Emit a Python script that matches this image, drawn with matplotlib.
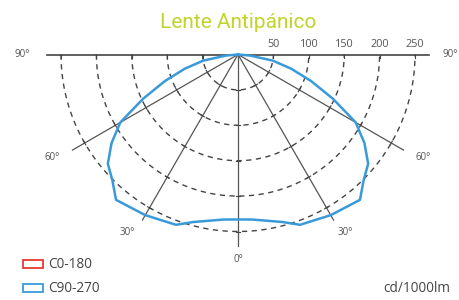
import numpy as np
import matplotlib
matplotlib.use('Agg')
import matplotlib.pyplot as plt

# C90-270 intensity (cd/1000lm) vs angle from nadir, symmetric about 0
angles = [0, 5, 15, 20, 30, 40, 45, 50, 55, 60, 65, 70, 75, 80, 85, 90]
c90_270 = [233, 234, 245, 256, 262, 268, 251, 240, 218, 192, 148, 110, 78, 50, 17, 0]

rings = [50, 100, 150, 200, 250]
ring_labels = ['50', '100', '150', '200', '250']
spokes = [-60, -30, 0, 30, 60]
r_max = 270

title_color = '#c0d42a'
text_color = '#555555'

def to_xy(gamma_deg, r):
    g = np.radians(gamma_deg)
    return np.asarray(r) * np.sin(g), -np.asarray(r) * np.cos(g)

fig = plt.figure(figsize=(4.59, 3.0), dpi=100)
ax = fig.add_axes([0, 0, 1, 1])
# data units are cd/1000lm, 0.708 px per unit, origin at (238, 54.5) px
scale = 0.708
ax.set_xlim(-238 / scale, (459 - 238) / scale)
ax.set_ylim(-(300 - 54.5) / scale, 54.5 / scale)
ax.axis('off')

# dashed rings (lower half)
t = np.linspace(-90, 90, 200)
for r in rings:
    x, y = to_xy(t, r)
    ax.plot(x, y, color='#444444', lw=1.0, dashes=(3.8, 3.2), zorder=1)

# horizontal 90-90 line
ax.plot([-r_max, r_max], [0, 0], color='#444444', lw=1.2, zorder=2)
for r in rings:
    for s in (-1, 1):
        ax.plot([s * r, s * r], [0, -5], color='#444444', lw=0.8, zorder=2)

# radial spokes with ticks
for a in spokes:
    x, y = to_xy([a, a], [0, r_max])
    ax.plot(x, y, color='#555555', lw=0.9, zorder=2)
    for r in rings:
        cx, cy = to_xy(a, r)
        g = np.radians(a)
        px, py = np.cos(g) * 3, np.sin(g) * 3
        ax.plot([cx - px, cx + px], [cy - py, cy + py], color='#444444', lw=0.8, zorder=2)

# intensity curve, mirrored
full_ang = [-a for a in angles[::-1]] + angles[1:]
full_val = c90_270[::-1] + c90_270[1:]
cx, cy = to_xy(full_ang, full_val)
ax.plot(cx, cy, color='#3a9ad9', lw=1.8, zorder=3, solid_joinstyle='round')

# scale labels
for r, lab in zip(rings, ring_labels):
    ax.text(r, 7, lab, ha='center', va='bottom', fontsize=7.8, color=text_color,
            family='Open Sans')

# angle labels
lab_kw = dict(fontsize=7, color=text_color, family='Open Sans', va='center', ha='center')
ax.text(-305, 0, '90°', **lab_kw)
ax.text(299, 0, '90°', **lab_kw)
ax.text(-263, -145, '60°', **lab_kw)
ax.text(262, -145, '60°', **lab_kw)
ax.text(-157, -251, '30°', **lab_kw)
ax.text(151, -251, '30°', **lab_kw)
ax.text(0, -289, '0°', **lab_kw)

fig.text(238 / 459, 1 - 22 / 300, 'Lente Antipánico', ha='center', va='center',
         fontsize=15, color=title_color, family=['Roboto', 'DejaVu Sans'],
         fontweight='normal')

# legend
fig.patches.append(plt.Rectangle((23 / 459, 1 - 268 / 300), 20 / 459, 8 / 300,
                                 transform=fig.transFigure, fill=False,
                                 edgecolor='#e53935', lw=1.3))
fig.patches.append(plt.Rectangle((23 / 459, 1 - 292 / 300), 20 / 459, 8 / 300,
                                 transform=fig.transFigure, fill=False,
                                 edgecolor='#3a9ad9', lw=1.3))
leg_kw = dict(va='center', fontsize=9.8, color='#444444', family='Open Sans')
fig.text(48 / 459, 1 - 264 / 300, 'C0-180', ha='left', **leg_kw)
fig.text(48 / 459, 1 - 288 / 300, 'C90-270', ha='left', **leg_kw)
fig.text(450 / 459, 1 - 288 / 300, 'cd/1000lm', ha='right', **leg_kw)

plt.savefig('out.png', dpi=100)
